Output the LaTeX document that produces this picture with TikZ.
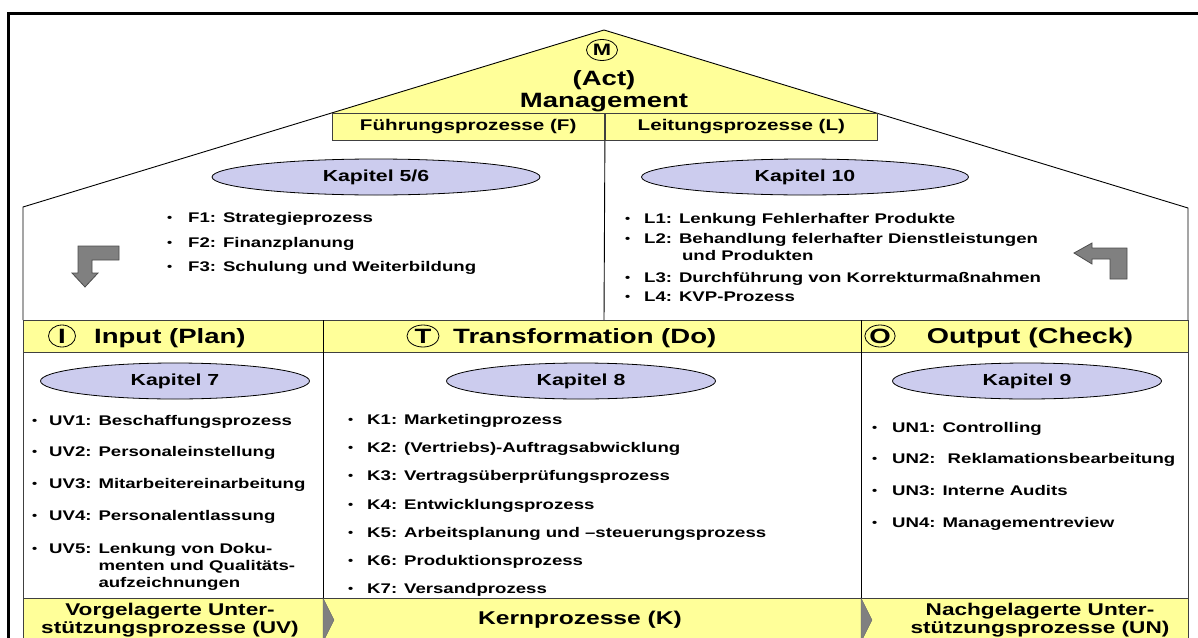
\documentclass[tikz,border=0pt]{standalone}
\usepackage{fontspec}
\setmainfont{Liberation Sans}[FakeStretch=1.33]
\usetikzlibrary{shapes.geometric,positioning}
\definecolor{boxyellow}{RGB}{255,255,153}
\definecolor{ovalblue}{RGB}{204,204,238}
\definecolor{arrowgray}{RGB}{128,128,128}
\newcommand{\itmfont}{\fontsize{14}{17}\selectfont\bfseries}
\newcommand{\kapfont}{\fontsize{16}{19}\selectfont\bfseries}
\newcommand{\hdrfont}{\fontsize{20.7}{24}\selectfont\bfseries}
\newcommand{\boxfont}{\fontsize{15.5}{18}\selectfont\bfseries}
\newcommand{\botfont}{\fontsize{17}{18}\selectfont\bfseries}
\newcommand{\bul}[1]{\makebox[#1][l]{\raisebox{0.5pt}{\fontsize{11}{11}\selectfont\textbullet}}}
\tikzset{
  wall/.style={draw=black, line width=0.9pt},
  cell/.style={draw=black!75, line width=0.9pt},
  pbox/.style={draw=black!75, fill=boxyellow, line width=0.9pt, inner sep=0pt,
               minimum height=27pt, font=\boxfont},
  oval/.style={ellipse, draw, fill=ovalblue, line width=0.8pt, inner sep=0pt,
               minimum height=36pt, font=\kapfont},
  ltr/.style={ellipse, draw, line width=0.8pt, inner sep=0pt,
              minimum width=27pt, minimum height=22pt, font=\hdrfont},
  hdr/.style={inner sep=0pt, font=\hdrfont},
  itm/.style={anchor=base west, inner sep=0pt, font=\itmfont},
  bot/.style={align=center, inner sep=0pt, font=\botfont},
  turn/.style={draw=black!70, fill=arrowgray, line width=0.8pt},
}

\begin{document}
\begin{tikzpicture}[x=1pt,y=-1pt]
  \useasboundingbox (0,0) rectangle (1198,637);
  % outer frame
  \draw[line width=3pt] (8,645) -- (8,13) -- (1205,13);

  % roof with management part
  \coordinate (eaveL) at (23,207);
  \coordinate (apex) at (604,30);
  \coordinate (eaveR) at (1188,208);
  \fill[boxyellow] (331.5,113) -- (apex) -- (876,113) -- cycle;
  \draw[wall] (23,320) -- (eaveL) -- (apex) -- (eaveR) -- (1188,320);
  \node[pbox, minimum width=272.5pt, anchor=north west] (fbox) at (331.5,113)
    {Führungsprozesse (F)};
  \node[pbox, minimum width=272pt, anchor=north west] (lbox) at (fbox.north east)
    {Leitungsprozesse (L)};
  \draw[wall] (fbox.south east) -- (604,320);
  \node[ltr, minimum width=31pt, minimum height=21pt,
        font=\fontsize{16.5}{18}\selectfont\bfseries] (mltr) at (602,50) {M};
  \node[hdr, anchor=base] (act) at (604,85) {(Act)};
  \node[hdr, anchor=base] (mgmt) at (604,107) {Management};

  % F and L processes
  \node[oval, minimum width=328pt] (kap56) at (376,177) {Kapitel 5/6};
  \node[oval, minimum width=327pt] (kap10) at (805,177) {Kapitel 10};
  \node[itm] (f1) at (167,222) {\bul{21pt}F1: Strategieprozess};
  \node[itm] (f2) at (167,247) {\bul{21pt}F2: Finanzplanung};
  \node[itm] (f3) at (167,271) {\bul{21pt}F3: Schulung und Weiterbildung};
  \node[itm] (l1) at (625,223) {\bul{19pt}L1: Lenkung Fehlerhafter Produkte};
  \node[itm] (l2) at (625,243) {\bul{19pt}\begin{tabular}[t]{@{}l@{ }l@{}}
    L2: & Behandlung felerhafter Dienstleistungen\\
        & \hspace{3pt}und Produkten\end{tabular}};
  \node[itm] (l3) at (625,282) {\bul{19pt}L3: Durchführung von Korrekturmaßnahmen};
  \node[itm] (l4) at (625,301) {\bul{19pt}L4: KVP-Prozess};

  % bent arrows
  \draw[turn] (119,246) -- (78,246) -- (78,273) -- (72,273) -- (85,287)
    -- (98,273) -- (92,273) -- (92,260) -- (119,260) -- cycle;
  \draw[turn] (1074,253) -- (1092,243) -- (1092,248) -- (1127,248) -- (1127,279)
    -- (1110,279) -- (1110,259) -- (1092,259) -- (1092,264) -- cycle;

  % input / transformation / output
  \fill[boxyellow] (23,320) rectangle (1188,352);
  \fill[boxyellow] (23,598) rectangle (1188,645);
  \draw[cell] (23,320) rectangle (1188,645);
  \draw[cell] (23,352) -- (1188,352);
  \draw[cell] (23,598) -- (1188,598);
  \draw[wall] (323,320) -- (323,645);
  \draw[wall] (861,320) -- (861,645);
  \fill[arrowgray, draw=black!60] (323,598) -- (334,620) -- (323,642) -- cycle;
  \fill[arrowgray, draw=black!60] (861,598) -- (872,620) -- (861,642) -- cycle;

  \node[ltr] (iltr) at (62,336) {I};
  \node[hdr, anchor=base west] (inp) at (94,343) {Input (Plan)};
  \node[ltr, minimum width=32pt] (tltr) at (423,336) {T};
  \node[hdr, anchor=base west] (trf) at (453,343) {Transformation (Do)};
  \node[ltr, minimum width=25pt] (oltr) at (880,336) {O};
  \node[hdr, anchor=base, font=\fontsize{21.5}{25}\selectfont\bfseries] (outp)
    at (1030,343.5) {Output (Check)};

  \node[oval, minimum width=269pt] (kap7) at (175,381) {Kapitel 7};
  \node[oval, minimum width=269pt] (kap8) at (581,381) {Kapitel 8};
  \node[oval, minimum width=269pt] (kap9) at (1027,381) {Kapitel 9};

  \node[itm] (uv1) at (32,425) {\bul{17pt}UV1: Beschaffungsprozess};
  \node[itm] (uv2) at (32,456) {\bul{17pt}UV2: Personaleinstellung};
  \node[itm] (uv3) at (32,488) {\bul{17pt}UV3: Mitarbeitereinarbeitung};
  \node[itm] (uv4) at (32,520) {\bul{17pt}UV4: Personalentlassung};
  \node[itm] (uv5) at (32,553) {\bul{17pt}\begin{tabular}[t]{@{}l@{ }l@{}}
    UV5: & Lenkung von Doku-\\
         & menten und Qualitäts-\\
         & aufzeichnungen\end{tabular}};

  \node[itm] (k1) at (348,424) {\bul{19pt}K1: Marketingprozess};
  \node[itm] (k2) at (348,452) {\bul{19pt}K2: (Vertriebs)-Auftragsabwicklung};
  \node[itm] (k3) at (348,480) {\bul{19pt}K3: Vertragsüberprüfungsprozess};
  \node[itm] (k4) at (348,509) {\bul{19pt}K4: Entwicklungsprozess};
  \node[itm] (k5) at (348,537) {\bul{19pt}K5: Arbeitsplanung und –steuerungsprozess};
  \node[itm] (k6) at (348,565) {\bul{19pt}K6: Produktionsprozess};
  \node[itm] (k7) at (348,593) {\bul{19pt}K7: Versandprozess};

  \node[itm] (un1) at (872,432) {\bul{20pt}UN1: Controlling};
  \node[itm] (un2) at (872,463) {\bul{20pt}UN2: \ Reklamationsbearbeitung};
  \node[itm] (un3) at (872,495) {\bul{20pt}UN3: Interne Audits};
  \node[itm] (un4) at (872,527) {\bul{20pt}UN4: Managementreview};

  \node[bot] (uvlbl) at (170,620.5) {Vorgelagerte Unter-\\stützungsprozesse (UV)};
  \node[bot, font=\fontsize{18.5}{20}\selectfont\bfseries] (klbl) at (580,620)
    {Kernprozesse (K)};
  \node[bot] (unlbl) at (1040,620.5) {Nachgelagerte Unter-\\stützungsprozesse (UN)};
\end{tikzpicture}
\end{document}
